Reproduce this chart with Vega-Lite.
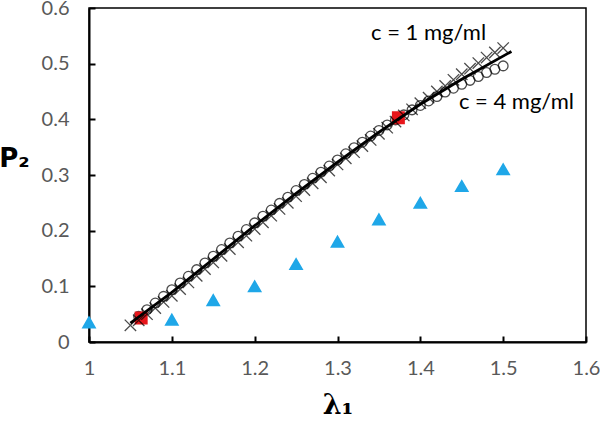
{
  "$schema": "https://vega.github.io/schema/vega-lite/v6.json",
  "width": 497,
  "height": 334,
  "autosize": {"type": "none"},
  "padding": {"left": 89, "top": 8, "right": 14, "bottom": 85},
  "background": "white",
  "config": {
    "view": {"stroke": "black", "strokeWidth": 1.5},
    "axis": {
      "grid": false,
      "domainColor": "black",
      "domainWidth": 2,
      "tickColor": "black",
      "tickWidth": 2,
      "labelColor": "#595959",
      "labelFont": "Lato",
      "labelFontSize": 20,
      "labelFlush": false,
      "labelOverlap": false
    }
  },
  "datasets": {
    "pts": [
      {"x": 1.05, "y": 0.030, "s": "c1"}, {"x": 1.06, "y": 0.039, "s": "c1"}, {"x": 1.07, "y": 0.050, "s": "c1"}, {"x": 1.08, "y": 0.061, "s": "c1"}, {"x": 1.09, "y": 0.072, "s": "c1"},
      {"x": 1.10, "y": 0.083, "s": "c1"}, {"x": 1.11, "y": 0.095, "s": "c1"}, {"x": 1.12, "y": 0.107, "s": "c1"}, {"x": 1.13, "y": 0.119, "s": "c1"}, {"x": 1.14, "y": 0.131, "s": "c1"},
      {"x": 1.15, "y": 0.143, "s": "c1"}, {"x": 1.16, "y": 0.155, "s": "c1"}, {"x": 1.17, "y": 0.167, "s": "c1"}, {"x": 1.18, "y": 0.179, "s": "c1"}, {"x": 1.19, "y": 0.191, "s": "c1"},
      {"x": 1.20, "y": 0.203, "s": "c1"}, {"x": 1.21, "y": 0.215, "s": "c1"}, {"x": 1.22, "y": 0.227, "s": "c1"}, {"x": 1.23, "y": 0.239, "s": "c1"}, {"x": 1.24, "y": 0.250, "s": "c1"},
      {"x": 1.25, "y": 0.262, "s": "c1"}, {"x": 1.26, "y": 0.273, "s": "c1"}, {"x": 1.27, "y": 0.285, "s": "c1"}, {"x": 1.28, "y": 0.296, "s": "c1"}, {"x": 1.29, "y": 0.308, "s": "c1"},
      {"x": 1.30, "y": 0.319, "s": "c1"}, {"x": 1.31, "y": 0.330, "s": "c1"}, {"x": 1.32, "y": 0.341, "s": "c1"}, {"x": 1.33, "y": 0.352, "s": "c1"}, {"x": 1.34, "y": 0.363, "s": "c1"},
      {"x": 1.35, "y": 0.374, "s": "c1"}, {"x": 1.36, "y": 0.385, "s": "c1"}, {"x": 1.37, "y": 0.396, "s": "c1"}, {"x": 1.38, "y": 0.407, "s": "c1"}, {"x": 1.39, "y": 0.418, "s": "c1"},
      {"x": 1.40, "y": 0.429, "s": "c1"}, {"x": 1.41, "y": 0.439, "s": "c1"}, {"x": 1.42, "y": 0.450, "s": "c1"}, {"x": 1.43, "y": 0.460, "s": "c1"}, {"x": 1.44, "y": 0.471, "s": "c1"},
      {"x": 1.45, "y": 0.481, "s": "c1"}, {"x": 1.46, "y": 0.491, "s": "c1"}, {"x": 1.47, "y": 0.501, "s": "c1"}, {"x": 1.48, "y": 0.511, "s": "c1"}, {"x": 1.49, "y": 0.520, "s": "c1"},
      {"x": 1.50, "y": 0.528, "s": "c1"},
      {"x": 1.06, "y": 0.046, "s": "c4"}, {"x": 1.07, "y": 0.058, "s": "c4"}, {"x": 1.08, "y": 0.070, "s": "c4"}, {"x": 1.09, "y": 0.082, "s": "c4"},
      {"x": 1.10, "y": 0.094, "s": "c4"}, {"x": 1.11, "y": 0.106, "s": "c4"}, {"x": 1.12, "y": 0.118, "s": "c4"}, {"x": 1.13, "y": 0.130, "s": "c4"}, {"x": 1.14, "y": 0.142, "s": "c4"},
      {"x": 1.15, "y": 0.154, "s": "c4"}, {"x": 1.16, "y": 0.166, "s": "c4"}, {"x": 1.17, "y": 0.178, "s": "c4"}, {"x": 1.18, "y": 0.190, "s": "c4"}, {"x": 1.19, "y": 0.202, "s": "c4"},
      {"x": 1.20, "y": 0.214, "s": "c4"}, {"x": 1.21, "y": 0.226, "s": "c4"}, {"x": 1.22, "y": 0.237, "s": "c4"}, {"x": 1.23, "y": 0.249, "s": "c4"}, {"x": 1.24, "y": 0.260, "s": "c4"},
      {"x": 1.25, "y": 0.272, "s": "c4"}, {"x": 1.26, "y": 0.283, "s": "c4"}, {"x": 1.27, "y": 0.294, "s": "c4"}, {"x": 1.28, "y": 0.305, "s": "c4"}, {"x": 1.29, "y": 0.316, "s": "c4"},
      {"x": 1.30, "y": 0.327, "s": "c4"}, {"x": 1.31, "y": 0.338, "s": "c4"}, {"x": 1.32, "y": 0.349, "s": "c4"}, {"x": 1.33, "y": 0.359, "s": "c4"}, {"x": 1.34, "y": 0.370, "s": "c4"},
      {"x": 1.35, "y": 0.380, "s": "c4"}, {"x": 1.36, "y": 0.390, "s": "c4"}, {"x": 1.37, "y": 0.399, "s": "c4"}, {"x": 1.38, "y": 0.408, "s": "c4"}, {"x": 1.39, "y": 0.417, "s": "c4"},
      {"x": 1.40, "y": 0.425, "s": "c4"}, {"x": 1.41, "y": 0.433, "s": "c4"}, {"x": 1.42, "y": 0.441, "s": "c4"}, {"x": 1.43, "y": 0.449, "s": "c4"}, {"x": 1.44, "y": 0.456, "s": "c4"},
      {"x": 1.45, "y": 0.463, "s": "c4"}, {"x": 1.46, "y": 0.470, "s": "c4"}, {"x": 1.47, "y": 0.477, "s": "c4"}, {"x": 1.48, "y": 0.484, "s": "c4"}, {"x": 1.49, "y": 0.490, "s": "c4"},
      {"x": 1.50, "y": 0.496, "s": "c4"},
      {"x": 1.05, "y": 0.034, "s": "fit"}, {"x": 1.10, "y": 0.089, "s": "fit"}, {"x": 1.15, "y": 0.149, "s": "fit"}, {"x": 1.20, "y": 0.209, "s": "fit"},
      {"x": 1.25, "y": 0.267, "s": "fit"}, {"x": 1.30, "y": 0.323, "s": "fit"}, {"x": 1.35, "y": 0.377, "s": "fit"}, {"x": 1.40, "y": 0.427, "s": "fit"},
      {"x": 1.45, "y": 0.472, "s": "fit"}, {"x": 1.51, "y": 0.522, "s": "fit"},
      {"x": 1.0, "y": 0.035, "s": "tri"}, {"x": 1.1, "y": 0.040, "s": "tri"}, {"x": 1.15, "y": 0.075, "s": "tri"}, {"x": 1.2, "y": 0.100, "s": "tri"},
      {"x": 1.25, "y": 0.140, "s": "tri"}, {"x": 1.3, "y": 0.180, "s": "tri"}, {"x": 1.35, "y": 0.220, "s": "tri"}, {"x": 1.4, "y": 0.250, "s": "tri"},
      {"x": 1.45, "y": 0.280, "s": "tri"}, {"x": 1.5, "y": 0.310, "s": "tri"},
      {"x": 1.063, "y": 0.043, "s": "red"}, {"x": 1.3735, "y": 0.403, "s": "red"}
    ],
    "labels": [
      {"x": 1.41, "y": 0.555, "t": "c = 1 mg/ml"},
      {"x": 1.516, "y": 0.431, "t": "c = 4 mg/ml"}
    ]
  },
  "encoding": {
    "x": {
      "field": "x", "type": "quantitative",
      "scale": {"domain": [1, 1.6], "nice": false, "zero": false},
      "axis": {
        "values": [1, 1.1, 1.2, 1.3, 1.4, 1.5, 1.6],
        "format": ".1~f",
        "tickSize": -6,
        "labelPadding": 22,
        "title": "λ₁",
        "titleFont": "DejaVu Serif",
        "titleFontWeight": "bold",
        "titleFontSize": 27,
        "titleColor": "black",
        "titleY": 63,
        "titleBaseline": "middle"
      }
    },
    "y": {
      "field": "y", "type": "quantitative",
      "scale": {"domain": [0, 0.6], "nice": false},
      "axis": {
        "values": [0, 0.1, 0.2, 0.3, 0.4, 0.5, 0.6],
        "format": ".1~f",
        "tickSize": -6,
        "labelPadding": 26,
        "title": "P₂",
        "titleFont": "DejaVu Sans",
        "titleFontWeight": "bold",
        "titleFontSize": 26,
        "titleColor": "black",
        "titleAngle": 0,
        "titleX": -75,
        "titleY": 150,
        "titleAlign": "center",
        "titleBaseline": "middle"
      }
    }
  },
  "layer": [
    {
      "data": {"name": "pts"},
      "transform": [{"filter": "datum.s === 'c4'"}],
      "mark": {"type": "point", "shape": "circle", "size": 95, "filled": false, "stroke": "black", "strokeWidth": 1.3}
    },
    {
      "data": {"name": "pts"},
      "transform": [{"filter": "datum.s === 'red'"}],
      "mark": {"type": "point", "shape": "square", "size": 120, "filled": true, "fill": "#E8161B", "stroke": "#E8161B", "opacity": 1}
    },
    {
      "data": {"name": "pts"},
      "transform": [{"filter": "datum.s === 'c1'"}],
      "mark": {"type": "point", "shape": "M-1,-1L1,1M-1,1L1,-1", "size": 130, "filled": false, "stroke": "black", "strokeWidth": 1.3}
    },
    {
      "data": {"name": "pts"},
      "transform": [{"filter": "datum.s === 'fit'"}],
      "mark": {"type": "line", "color": "black", "strokeWidth": 2.8}
    },
    {
      "data": {"name": "pts"},
      "transform": [{"filter": "datum.s === 'tri'"}],
      "mark": {"type": "point", "shape": "triangle-up", "size": 130, "filled": true, "fill": "#1FA7E8", "stroke": "#1FA7E8", "opacity": 1}
    },
    {
      "data": {"name": "labels"},
      "mark": {"type": "text", "font": "Lato", "fontSize": 22, "color": "black"},
      "encoding": {"text": {"field": "t"}}
    }
  ]
}
